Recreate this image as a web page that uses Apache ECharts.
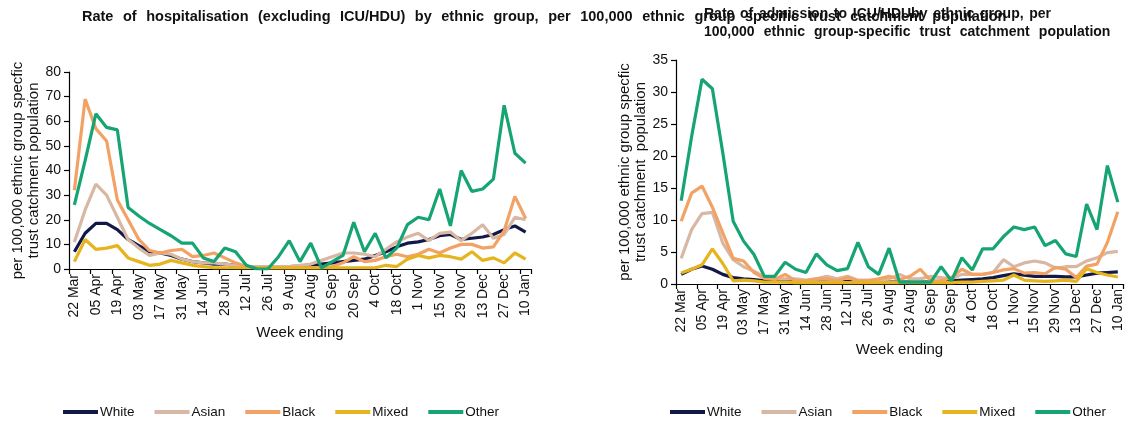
<!DOCTYPE html>
<html>
<head>
<meta charset="utf-8">
<script src="https://cdn.jsdelivr.net/npm/echarts@6/dist/echarts.min.js"></script>
<style>
  html, body { margin: 0; padding: 0; background: #fff; }
  #chart { width: 1132px; height: 422px; }
</style>
</head>
<body>
<div id="chart"></div>
<script>
// Week-ending dates, 22 Mar 2020 to 10 Jan 2021
const weeks = ["22 Mar","29 Mar","05 Apr","12 Apr","19 Apr","26 Apr","03 May","10 May","17 May","24 May","31 May","07 Jun","14 Jun","21 Jun","28 Jun","05 Jul","12 Jul","19 Jul","26 Jul","2 Aug","9 Aug","16 Aug","23 Aug","30 Aug","6 Sep","13 Sep","20 Sep","27 Sep","4 Oct","11 Oct","18 Oct","25 Oct","1 Nov","8 Nov","15 Nov","22 Nov","29 Nov","6 Dec","13 Dec","20 Dec","27 Dec","3 Jan","10 Jan"];

const groups = ["White", "Asian", "Black", "Mixed", "Other"];

// Hospitalisation (excluding ICU/HDU), per 100,000
const hospWhite = [7,14.5,18.5,18.5,16,12,9.5,7,6.5,5.5,4,3, 2.5,2,2,1.5,1,1,1,1,1,1.2,1.5,2, 2.5,3,3.5,4,5.5,7,9,10.5,11,12,13.5,14, 12,12.5,13,14,16,17.5,15];
const hospAsian = [11,24,34.5,30,21,12,8.5,5.5,6.5,6,4,3, 2.5,2.5,2,1.5,1,1,1,1,1,1.5,2,3.5, 5,6.5,6.5,6,5,8,11,13,14.5,11.5,14.5,15, 11.5,14.5,18,12.5,14,21,20];
const hospBlack = [32,69,57,52,28,20,12,7.5,6.5,7.5,8,5, 5.5,6.5,4.5,2.5,1,0.5,0.5,0.5,0.5,0.5,0.5,0.5, 1,2.5,5,3,3.5,5,6,5,6,8,6.5,8.5, 10,10,8.5,9,15.5,29.5,20.5];
const hospMixed = [3,12,8,8.5,9.5,4.5,3,1.5,2,3.5,2.5,1.5, 1,0.5,0.5,0.5,0.5,0.5,0.5,0.5,0.5,0.5,0.5,0.5, 0.5,0.5,0.5,0.5,0.5,1.5,1,4,5.5,4.5,5.5,5, 4,7,3.5,4.5,2.5,6.5,4];
const hospOther = [26,44,63,57.5,56.5,25,21.5,18.5,16,13.5,10.5,10.5, 4.5,3,8.5,7,1.5,0,0,5,11.5,3,10.5,0.5, 3,5.5,19,7,14.5,4.5,8.5,18,21,20,32.5,17.5, 40,31.5,32.5,36.5,66.5,47,43];

// Admission to ICU/HDU, per 100,000
const icuWhite = [1.5,2.3,2.8,2.3,1.5,1,0.8,0.7,0.5,0.4,0.4,0.4, 0.3,0.3,0.3,0.3,0.4,0.3,0.3,0.3,0.3,0.3,0.3,0.3, 0.3,0.4,0.5,0.6,0.7,0.8,1,1.3,1.6,1.4,1.2,1.2, 1.2,1.1,1.1,1.4,1.7,1.8,1.9];
const icuAsian = [4,8.5,11,11.2,6.4,3.8,2.7,2,1.1,0.8,0.8,0.8, 0.6,0.8,1.2,0.8,1.2,0.6,0.6,0.6,0.8,1.5,0.8,0.8, 1.2,1,0.8,1.5,1.5,1.5,1.8,3.8,2.7,3.3,3.6,3.3, 2.5,2.7,2.7,3.6,4.1,4.9,5.1];
const icuBlack = [9.8,14.2,15.3,12,8,4,3.6,1.8,0.9,0.7,1.5,0.5, 0.5,0.8,0.8,0.5,1,0.5,0.5,0.8,1.2,0.7,1.2,2.3, 0.5,0.5,1,2.3,1.5,1.5,1.8,2.2,2.4,1.7,1.8,1.6, 2.6,2.3,1,2.8,3.1,6.5,11.3];
const icuMixed = [1.7,2.3,3,5.5,3.2,0.5,0.6,0.5,0.3,0.3,0.3,0.2, 0.2,0.2,0.2,0.2,0.2,0.2,0.2,0.2,0.2,0.2,0.2,0.2, 0.2,0.2,0.2,0.3,0.3,0.4,0.5,0.6,1.4,0.6,0.5,0.4, 0.5,0.6,0.4,2.4,1.8,1.4,1.1];
const icuOther = [13,23,32,30.5,20.5,9.8,6.7,4.6,1.2,1.2,3.4,2.3, 1.8,4.7,3,2.1,2.4,6.5,2.7,1.5,5.6,0.3,0.3,0.3, 0.3,2.7,0.5,4.1,2.2,5.5,5.5,7.4,8.9,8.5,8.9,6, 6.8,4.7,4.3,12.5,8.5,18.5,12.8];

const titleLeft = "Rate of hospitalisation (excluding ICU/HDU) by ethnic group, per 100,000 ethnic group specific trust catchment population";
const titleRight1 = "Rate of admission to ICU/HDUby ethnic group, per";
const titleRight2 = "100,000 ethnic group-specific trust catchment population";

const colors = { White: "#121848", Asian: "#d8b8a4", Black: "#f2a264", Mixed: "#e6b41e", Other: "#16a572" };

const FONT = "Liberation Sans, Arial, sans-serif";
const yName = "per 100,000 ethnic group specfic\ntrust catchment population";
const yNameRight = "per 100,000 ethnic group specfic\ntrust catchment  population";

// Wrap each word of a heading in a rich-text token so the gaps between words can be widened
function spacedWords(str, styleName) {
  const words = str.split(" ");
  return words.map((w, i) => "{" + styleName + "|" + w + (i < words.length - 1 ? " " : "") + "}").join("");
}

function titleStyle(size, gap) {
  return { fontFamily: FONT, fontSize: size, fontWeight: "bold", color: "#111", padding: [0, gap, 0, 0], lineHeight: 18 };
}

function xAxisFor(gridIndex, gap) {
  return {
    type: "category",
    gridIndex: gridIndex,
    data: weeks,
    boundaryGap: true,
    name: "Week ending",
    nameLocation: "middle",
    nameGap: gap,
    nameTextStyle: { fontFamily: FONT, fontSize: 15, color: "#111" },
    axisLine: { lineStyle: { color: "#000", width: 1.2 } },
    axisTick: { show: true, interval: 1, length: 5, lineStyle: { color: "#000", width: 1.2 } },
    axisLabel: { interval: 1, rotate: 90, fontFamily: FONT, fontSize: 14, color: "#111", margin: 5 },
    splitLine: { show: false }
  };
}

function yAxisFor(gridIndex, max, interval, name, gap) {
  return {
    type: "value",
    gridIndex: gridIndex,
    min: 0,
    max: max,
    interval: interval,
    name: name,
    nameLocation: "middle",
    nameGap: gap,
    nameRotate: 90,
    nameTextStyle: { fontFamily: FONT, fontSize: 15, color: "#111", lineHeight: 16 },
    axisLine: { show: true, lineStyle: { color: "#000", width: 1.2 } },
    axisTick: { show: true, length: 5, lineStyle: { color: "#000", width: 1.2 } },
    axisLabel: { fontFamily: FONT, fontSize: 14, color: "#111", margin: 8 },
    splitLine: { show: false }
  };
}

function lineSeries(name, data, axisIndex) {
  return {
    name: name,
    type: "line",
    xAxisIndex: axisIndex,
    yAxisIndex: axisIndex,
    data: data,
    showSymbol: false,
    symbol: "none",
    smooth: false,
    lineStyle: { width: 3.2, color: colors[name] },
    itemStyle: { color: colors[name] },
    emphasis: { disabled: true }
  };
}

function legendFor(leftX) {
  return {
    data: groups.map(g => ({ name: g, icon: "rect" })),
    left: leftX,
    top: 400,
    itemWidth: 35,
    itemHeight: 4,
    itemGap: 20,
    textStyle: { fontFamily: FONT, fontSize: 13.5, color: "#111", padding: [0, 0, 0, -3] },
    selectedMode: false
  };
}

const chart = echarts.init(document.getElementById("chart"), null, { renderer: "canvas" });

chart.setOption({
  animation: false,
  backgroundColor: "#fff",
  title: [
    {
      text: spacedWords(titleLeft, "a"),
      left: 77, top: 3,
      textStyle: { rich: { a: titleStyle(14.5, 5.5) } }
    },
    {
      text: spacedWords(titleRight1, "b") + "\n" + spacedWords(titleRight2, "c"),
      left: 699, top: 0,
      textStyle: { rich: { b: titleStyle(14, 1.8), c: titleStyle(14, 5.2) } }
    }
  ],
  legend: [legendFor(58), legendFor(665)],
  grid: [
    { left: 69, top: 72, width: 462, height: 197 },
    { left: 676, top: 60, width: 447, height: 224 }
  ],
  xAxis: [xAxisFor(0, 56), xAxisFor(1, 54)],
  yAxis: [
    yAxisFor(0, 80, 10, yName, 23),
    yAxisFor(1, 35, 5, yNameRight, 25)
  ],
  series: [
    lineSeries("White", hospWhite, 0),
    lineSeries("Asian", hospAsian, 0),
    lineSeries("Black", hospBlack, 0),
    lineSeries("Mixed", hospMixed, 0),
    lineSeries("Other", hospOther, 0),
    lineSeries("White", icuWhite, 1),
    lineSeries("Asian", icuAsian, 1),
    lineSeries("Black", icuBlack, 1),
    lineSeries("Mixed", icuMixed, 1),
    lineSeries("Other", icuOther, 1)
  ]
});
</script>
</body>
</html>
